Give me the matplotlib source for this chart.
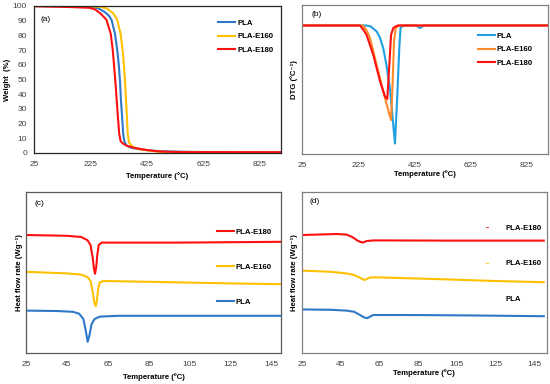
import matplotlib
matplotlib.use("Agg")
import matplotlib.pyplot as plt
from matplotlib.lines import Line2D

plt.rcParams["font.family"] = ["Liberation Sans", "DejaVu Sans"]

# ---- (a) TGA weight loss ----
tga_pla_t = [25, 150, 230, 253, 275, 290, 300, 312, 320, 326, 330, 333, 337, 341, 345, 353, 370, 400, 450, 500, 600, 900]
tga_pla_w = [100, 99.9, 99.5, 98.4, 96, 93.5, 90.5, 81, 70, 58.7, 48, 36, 25, 13, 8, 5, 3.5, 2.5, 1.5, 1.0, 0.7, 0.5]
tga_e160_t = [25, 200, 260, 282, 306, 320, 332, 340, 344, 348, 351, 354, 357, 362, 376, 400, 450, 500, 600, 900]
tga_e160_w = [100, 99.9, 99.5, 98.4, 95, 90.5, 81, 68, 58.7, 47, 36, 25, 13, 7, 4, 2.5, 1.2, 0.5, 0.3, 0.3]
tga_e180_t = [25, 150, 220, 240, 260, 275, 282, 297, 304, 309, 314, 318, 322, 327, 332, 339, 353, 380, 424, 471, 550, 900]
tga_e180_w = [99.8, 99.3, 98.8, 97.8, 95, 92, 90.5, 81, 70, 58.7, 47, 36, 25, 13, 8, 6.6, 5, 3.5, 2, 1, 0.6, 0.5]

# ---- (b) DTG (arbitrary units) ----
dtg_pla_t = [25, 255, 270, 291, 303, 314.6, 326, 338, 350, 356, 364, 371.5, 376, 385, 430, 445, 460, 900]
dtg_pla_v = [0, 0, -0.02, -0.12, -0.25, -0.46, -0.8, -1.25, -1.99, -2.36, -1.45, -0.45, -0.05, 0, 0, -0.05, 0, 0]
dtg_e160_t = [25, 242, 255, 267, 291, 314.5, 330, 342, 348, 352.6, 358.5, 370, 900]
dtg_e160_v = [0, 0, -0.1, -0.25, -0.79, -1.32, -1.65, -1.89, -1.12, -0.32, -0.05, 0, 0]
dtg_e180_t = [25, 231, 243, 255, 279, 303, 320.5, 328.7, 336, 342, 350, 365, 900]
dtg_e180_v = [0, 0, -0.08, -0.19, -0.59, -1.12, -1.42, -1.47, -0.79, -0.19, -0.05, 0, 0]

# ---- (c) DSC first heating ----
c_pla_t = [25, 40, 48, 51, 53, 54.2, 55.1, 56, 57, 58.5, 61, 70, 100, 150]
c_pla_v = [1.06, 1.05, 1.03, 0.98, 0.85, 0.55, 0.28, 0.45, 0.72, 0.85, 0.91, 0.93, 0.93, 0.93]
c_e160_t = [25, 45, 52, 55, 56.5, 57.5, 58.3, 59, 59.6, 60.2, 61, 63, 85, 105, 125, 150]
c_e160_v = [2.03, 1.99, 1.96, 1.90, 1.80, 1.55, 1.28, 1.17, 1.30, 1.60, 1.77, 1.80, 1.78, 1.76, 1.74, 1.72]
c_e180_t = [25, 45, 52, 55, 56.5, 57.5, 58.2, 58.7, 59.3, 59.8, 60.5, 62, 75, 100, 125, 150]
c_e180_v = [2.95, 2.93, 2.90, 2.82, 2.70, 2.40, 2.10, 1.98, 2.15, 2.45, 2.70, 2.76, 2.76, 2.76, 2.77, 2.78]

# ---- (d) DSC second heating ----
d_pla_t = [25, 40, 48, 52, 55, 57, 58.8, 60.5, 62, 80, 110, 150]
d_pla_v = [1.09, 1.08, 1.06, 1.03, 0.95, 0.89, 0.87, 0.92, 0.95, 0.95, 0.94, 0.92]
d_e160_t = [25, 40, 48, 52, 55, 57.3, 60.2, 65, 100, 125, 150]
d_e160_v = [2.06, 2.03, 1.99, 1.95, 1.88, 1.825, 1.89, 1.89, 1.84, 1.80, 1.77]
d_e180_t = [25, 43, 48, 51, 54, 56.4, 58.5, 62, 100, 150]
d_e180_v = [2.95, 2.975, 2.96, 2.90, 2.80, 2.76, 2.80, 2.815, 2.81, 2.81]

labels = ["PLA", "PLA-E160", "PLA-E180"]
tga_ticks = [25, 225, 425, 625, 825]
dsc_ticks = [25, 45, 65, 85, 105, 125, 145]

BLUE = "#2f78c8"
LBLUE = "#1fa0e0"
YEL = "#ffc000"
ORG = "#ff8a2a"
RED = "#ff1010"
FS = 5.6
TICKC = "#404040"

fig = plt.figure(figsize=(5.5, 3.84), dpi=100)
ax_a = fig.add_axes([0.0618, 0.6016, 0.4491, 0.3828])
ax_b = fig.add_axes([0.5491, 0.599, 0.4467, 0.388])
ax_c = fig.add_axes([0.0473, 0.0807, 0.4636, 0.4193])
ax_d = fig.add_axes([0.5491, 0.0807, 0.4449, 0.4193])


def style(ax, xt, xlim, spine_col, show_y=False):
    ax.set_xlim(*xlim)
    ax.set_xticks(xt)
    ax.tick_params(axis="x", length=0, pad=5.5, labelsize=6, labelcolor=TICKC)
    if show_y:
        ax.tick_params(axis="y", length=0, pad=5, labelsize=6, labelcolor=TICKC)
    else:
        ax.set_yticks([])
    for s in ax.spines.values():
        s.set_color(spine_col)
        s.set_linewidth(0.9)


# (a)
ax_a.plot(tga_pla_t, tga_pla_w, color=BLUE, lw=1.5, label=labels[0])
ax_a.plot(tga_e160_t, tga_e160_w, color=YEL, lw=1.5, label=labels[1])
ax_a.plot(tga_e180_t, tga_e180_w, color=RED, lw=1.5, label=labels[2])
style(ax_a, tga_ticks, (25, 900), "#262626", show_y=True)
ax_a.set_ylim(0, 100)
ax_a.set_yticks(range(0, 101, 10))
ax_a.set_xlabel("Temperature (°C)", fontsize=FS, fontweight="bold")
ax_a.set_ylabel("Weight  (%)", fontsize=FS, fontweight="bold")
ax_a.xaxis.set_label_coords(0.5, -0.13)
ax_a.yaxis.set_label_coords(-0.095, 0.5)
ax_a.text(0.025, 0.905, "(a)", transform=ax_a.transAxes, fontsize=6, va="center")
ax_a.legend(loc="upper left", bbox_to_anchor=(0.745, 0.91), frameon=False, fontsize=FS,
            prop={"weight": "bold", "size": FS}, handlelength=2.2, handletextpad=0.25,
            labelspacing=0.8, borderpad=0, borderaxespad=0)

# (b)
ax_b.plot(dtg_pla_t, dtg_pla_v, color=LBLUE, lw=1.5, label=labels[0])
ax_b.plot(dtg_e160_t, dtg_e160_v, color=ORG, lw=1.5, label=labels[1])
ax_b.plot(dtg_e180_t, dtg_e180_v, color=RED, lw=1.5, label=labels[2])
style(ax_b, tga_ticks, (25, 900), "#808080")
ax_b.set_ylim(-2.57, 0.41)
ax_b.set_xlabel("Temperature (ºC)", fontsize=FS, fontweight="bold")
ax_b.set_ylabel("DTG (ºC⁻¹)", fontsize=FS, fontweight="bold")
ax_b.xaxis.set_label_coords(0.5, -0.107)
ax_b.yaxis.set_label_coords(-0.016, 0.5)
ax_b.text(0.04, 0.935, "(b)", transform=ax_b.transAxes, fontsize=6, va="center")
ax_b.legend(loc="upper left", bbox_to_anchor=(0.716, 0.817), frameon=False,
            prop={"weight": "bold", "size": FS}, handlelength=2.2, handletextpad=0.25,
            labelspacing=0.8, borderpad=0, borderaxespad=0)

# (c)
lc1, = ax_c.plot(c_pla_t, c_pla_v, color=BLUE, lw=1.5)
lc2, = ax_c.plot(c_e160_t, c_e160_v, color=YEL, lw=1.5)
lc3, = ax_c.plot(c_e180_t, c_e180_v, color=RED, lw=1.5)
style(ax_c, dsc_ticks, (25, 149.5), "#595959")
ax_c.set_ylim(0, 4.025)
ax_c.set_xlabel("Temperature (ºC)", fontsize=FS, fontweight="bold")
ax_c.set_ylabel("Heat flow rate (Wg⁻¹)", fontsize=FS, fontweight="bold")
ax_c.xaxis.set_label_coords(0.5, -0.124)
ax_c.yaxis.set_label_coords(-0.012, 0.5)
ax_c.text(0.035, 0.93, "(c)", transform=ax_c.transAxes, fontsize=6, va="center")
ax_c.legend([lc3, lc2, lc1], labels[::-1], loc="upper left", bbox_to_anchor=(0.748, 0.775),
            frameon=False, prop={"weight": "bold", "size": FS}, handlelength=2.2,
            handletextpad=0.25, labelspacing=3.55, borderpad=0, borderaxespad=0)

# (d)
ax_d.plot(d_pla_t, d_pla_v, color=BLUE, lw=1.5)
ax_d.plot(d_e160_t, d_e160_v, color=YEL, lw=1.5)
ax_d.plot(d_e180_t, d_e180_v, color=RED, lw=1.5)
style(ax_d, dsc_ticks, (25, 151.5), "#808080")
ax_d.set_ylim(0, 4.025)
ax_d.set_xlabel("Temperature (ºC)", fontsize=FS, fontweight="bold")
ax_d.set_ylabel("Heat flow rate (Wg⁻¹)", fontsize=FS, fontweight="bold")
ax_d.xaxis.set_label_coords(0.5, -0.102)
ax_d.yaxis.set_label_coords(-0.018, 0.5)
ax_d.text(0.03, 0.94, "(d)", transform=ax_d.transAxes, fontsize=6, va="center")
dh = [Line2D([], [], color=c, lw=0.6) for c in (RED, YEL, "none")]
ax_d.legend(dh, labels[::-1], loc="upper left", bbox_to_anchor=(0.752, 0.798),
            frameon=False, prop={"weight": "bold", "size": FS}, handlelength=0.3,
            handletextpad=2.2, labelspacing=3.6, borderpad=0, borderaxespad=0)

fig.savefig("out.png", dpi=100)
